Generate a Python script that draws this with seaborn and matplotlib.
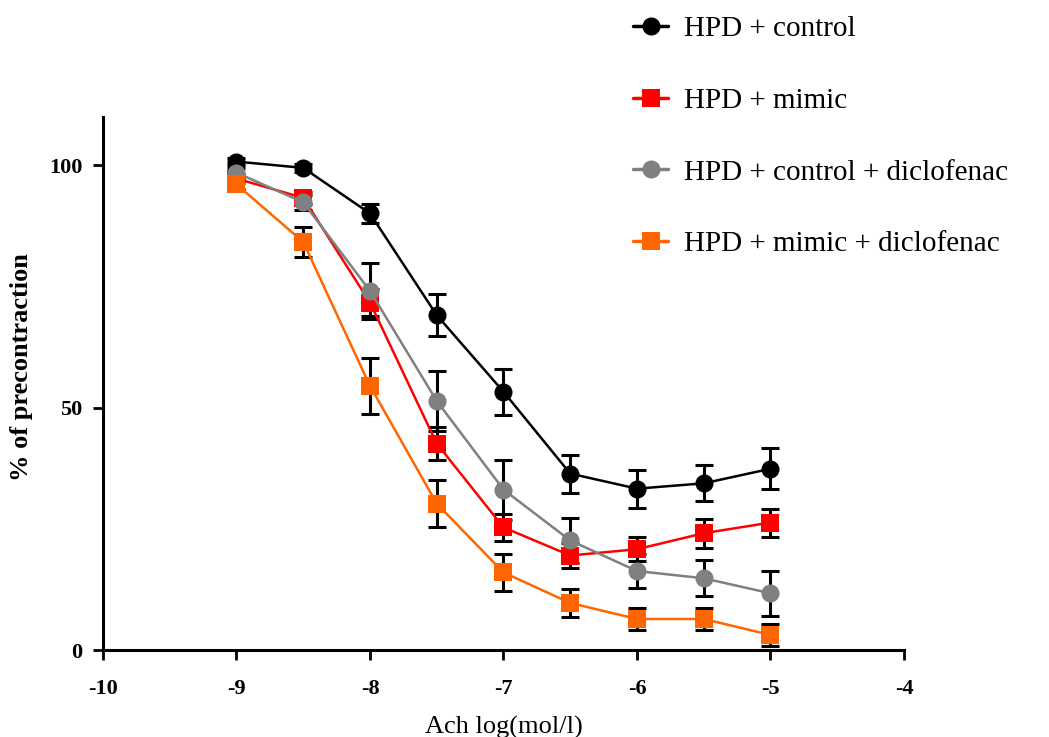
import numpy as np
import pandas as pd
import matplotlib
matplotlib.use("Agg")
import matplotlib.pyplot as plt
import seaborn as sns
from matplotlib.lines import Line2D

# ---- data ----
log_conc = [-9, -8.5, -8, -7.5, -7, -6.5, -6, -5.5, -5]
series_names = ["HPD + control", "HPD + mimic", "HPD + control + diclofenac", "HPD + mimic + diclofenac"]
ctrl_mean = [100.8, 99.5, 90.1, 69.1, 53.3, 36.4, 33.3, 34.4, 37.4]
ctrl_sem = [0.8, 0.8, 2.0, 4.4, 4.7, 3.9, 3.9, 3.7, 4.2]
mimic_mean = [97.3, 93.3, 71.7, 42.6, 25.3, 19.5, 20.8, 24.1, 26.3]
mimic_sem = [1.0, 1.2, 2.8, 3.4, 2.8, 2.5, 2.5, 3.0, 2.9]
ctrl_dic_mean = [98.5, 92.4, 74.1, 51.4, 33.1, 22.6, 16.3, 14.8, 11.7]
ctrl_dic_sem = [1.0, 1.5, 5.8, 6.2, 6.2, 4.6, 3.5, 3.7, 4.7]
mimic_dic_mean = [96.1, 84.2, 54.5, 30.2, 16.0, 9.7, 6.4, 6.4, 3.1]
mimic_dic_sem = [1.0, 3.1, 5.8, 4.9, 3.8, 2.9, 2.2, 2.2, 2.2]
x_ticks = [-10, -9, -8, -7, -6, -5, -4]
y_ticks = [0, 50, 100]

means = [ctrl_mean, mimic_mean, ctrl_dic_mean, mimic_dic_mean]
sems = [ctrl_sem, mimic_sem, ctrl_dic_sem, mimic_dic_sem]
colors = ["#000000", "#ff0000", "#808080", "#ff6600"]
markers = ["o", "s", "o", "s"]

sns.set_style("ticks")
plt.rcParams["font.family"] = ["Liberation Serif", "DejaVu Serif"]
plt.rcParams["axes.unicode_minus"] = False
plt.rcParams["text.color"] = "black"
plt.rcParams["axes.labelcolor"] = "black"
plt.rcParams["xtick.color"] = "black"
plt.rcParams["ytick.color"] = "black"

fig = plt.figure(figsize=(10.49, 7.37), dpi=100)
ax = fig.add_axes([103 / 1049, 1 - 650 / 737, (904 - 103) / 1049, (650 - 117) / 737])

for name, m, s, c, mk in zip(series_names, means, sems, colors, markers):
    df = pd.DataFrame({"x": log_conc, "y": m})
    ax.errorbar(log_conc, m, yerr=s, fmt="none", ecolor="black", elinewidth=2.2,
                capsize=6.5, capthick=2.2, zorder=2)
    sns.lineplot(data=df, x="x", y="y", ax=ax, color=c, linewidth=1.8,
                 marker=mk, markersize=13, markeredgewidth=0, zorder=3, legend=False)

ax.set_xlim(-10, -4)
ax.set_ylim(0, 110)
ax.set_xticks(x_ticks)
ax.set_xticklabels([str(v) for v in x_ticks])
ax.set_yticks(y_ticks)
ax.set_yticklabels([str(v) for v in y_ticks])
for lab in ax.get_xticklabels() + ax.get_yticklabels():
    lab.set_fontweight("bold")
    lab.set_fontsize(16)
    lab.set_color("black")
ax.tick_params(axis="both", width=2, length=7, color="black", labelcolor="black")
ax.tick_params(axis="x", pad=14)
ax.tick_params(axis="y", pad=8)
for sp in ["top", "right"]:
    ax.spines[sp].set_visible(False)
for sp in ["left", "bottom"]:
    ax.spines[sp].set_linewidth(2.2)
    ax.spines[sp].set_color("black")

ax.set_xlabel("Ach log(mol/l)", fontsize=19, labelpad=12, color="black")
ax.set_ylabel("% of precontraction", fontsize=19, fontweight="bold", color="black")
ax.yaxis.set_label_coords(-0.087, 0.53)

handles = [Line2D([0], [0], color=c, marker=mk, markersize=13, markeredgewidth=0, linewidth=2.5)
           for c, mk in zip(colors, markers)]
leg = fig.legend(handles, series_names, loc="upper left",
                 bbox_to_anchor=(633 / 1049, 1 - 16 / 737), frameon=False,
                 fontsize=21, labelspacing=1.55, handlelength=1.2, handletextpad=0.55,
                 borderpad=0, borderaxespad=0)
for t in leg.get_texts():
    t.set_color("black")

fig.savefig("out.png", dpi=100)
